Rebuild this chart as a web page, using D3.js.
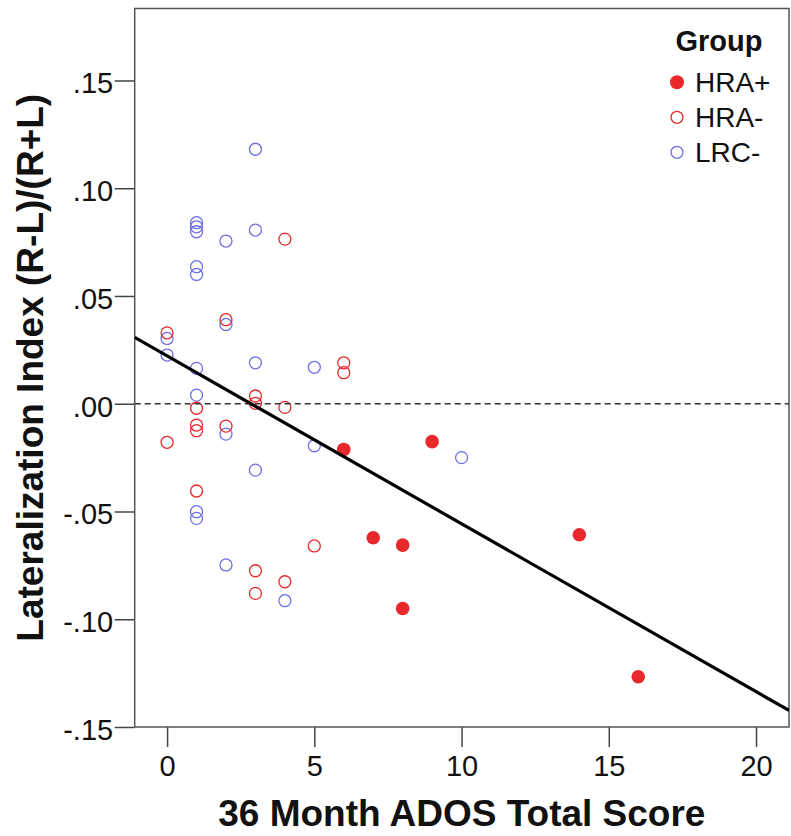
<!DOCTYPE html>
<html>
<head>
<meta charset="utf-8">
<script src="https://cdn.jsdelivr.net/npm/d3@7"></script>
<style>
  body { margin: 0; background: #fff; }
  svg { display: block; font-family: "Liberation Sans", Arial, sans-serif; }
</style>
</head>
<body>
<div id="chart"></div>
<script>
// data
var hraPlusX = [6, 7, 8, 8, 9, 14, 16];
var hraPlusY = [-0.0212, -0.0622, -0.0656, -0.0950, -0.0176, -0.0608, -0.1267];

var hraMinusX = [4, 2, 0, 6, 6, 3, 3, 4, 1, 1, 1, 2, 0, 1, 5, 3, 4, 3];
var hraMinusY = [0.0764, 0.0390, 0.0329, 0.0190, 0.0144, 0.0036, 0.0002, -0.0017, -0.0021,
                 -0.0099, -0.0125, -0.0104, -0.0179, -0.0405, -0.0660, -0.0775, -0.0826, -0.0880];

var lrcX = [3, 1, 1, 1, 2, 3, 1, 1, 2, 0, 0, 1, 3, 5, 1, 2, 5, 3, 1, 1, 2, 4, 10];
var lrcY = [0.1181, 0.0840, 0.0821, 0.0798, 0.0755, 0.0806, 0.0636, 0.0600, 0.0368, 0.0303,
            0.0226, 0.0164, 0.0190, 0.0169, 0.0040, -0.0141, -0.0195, -0.0308, -0.0501,
            -0.0532, -0.0748, -0.0914, -0.0250];

// fit line: intercept, slope
var fitIntercept = 0.0222;
var fitSlope = -0.00779;

var xTicks = [0, 5, 10, 15, 20];
var yTicks = [0.15, 0.10, 0.05, 0.00, -0.05, -0.10, -0.15];
var yTickLabels = [".15", ".10", ".05", ".00", "-.05", "-.10", "-.15"];

var groups = ["HRA+", "HRA-", "LRC-"];

var red = "#e8282b";
var blue = "#6f6fe6";
var fontFamily = "'Liberation Sans', Arial, sans-serif";

var width = 791, height = 836;
var margin = {top: 8.5, right: 2, bottom: 109, left: 134.7};
var w = width - margin.left - margin.right;
var h = height - margin.top - margin.bottom;

var svg = d3.select("#chart")
    .append("svg")
    .attr("width", width)
    .attr("height", height);

var g = svg.append("g")
    .attr("transform", "translate(" + margin.left + "," + margin.top + ")");

var x = d3.scaleLinear().domain([-1.1, 21.12]).range([0, w]);
var y = d3.scaleLinear().domain([-0.15, 0.1834]).range([h, 0]);

// axes
var xAxis = g.append("g")
    .attr("transform", "translate(0," + h + ")")
    .call(d3.axisBottom(x).tickValues(xTicks).tickSize(20).tickSizeOuter(0).tickPadding(8));

var yAxis = g.append("g")
    .call(d3.axisLeft(y).tickValues(yTicks).tickSize(20).tickSizeOuter(0).tickPadding(1.5)
        .tickFormat(function(d, i) { return yTickLabels[i]; }));

[xAxis, yAxis].forEach(function(a) {
    a.attr("font-family", fontFamily);
    a.select(".domain").remove();
    a.selectAll("line").attr("stroke", "#444").attr("stroke-width", 1.5);
    a.selectAll("text")
        .attr("fill", "#111")
        .style("font-size", "29px");
});
yAxis.selectAll("text").attr("dy", "0.43em");

// frame
g.append("rect")
    .attr("width", w)
    .attr("height", h)
    .attr("fill", "none")
    .attr("stroke", "#555")
    .attr("stroke-width", 1.5);

g.append("clipPath")
    .attr("id", "clip")
    .append("rect")
    .attr("width", w)
    .attr("height", h);

var plot = g.append("g").attr("clip-path", "url(#clip)");

// points
plot.selectAll(".lrc")
    .data(d3.range(lrcX.length))
    .enter()
    .append("circle")
    .attr("class", "lrc")
    .attr("cx", function(i) { return x(lrcX[i]); })
    .attr("cy", function(i) { return y(lrcY[i]); })
    .attr("r", 6)
    .attr("fill", "none")
    .attr("stroke", blue)
    .attr("stroke-width", 1.3);

plot.selectAll(".hraminus")
    .data(d3.range(hraMinusX.length))
    .enter()
    .append("circle")
    .attr("class", "hraminus")
    .attr("cx", function(i) { return x(hraMinusX[i]); })
    .attr("cy", function(i) { return y(hraMinusY[i]); })
    .attr("r", 6)
    .attr("fill", "none")
    .attr("stroke", red)
    .attr("stroke-width", 1.3);

plot.selectAll(".hraplus")
    .data(d3.range(hraPlusX.length))
    .enter()
    .append("circle")
    .attr("class", "hraplus")
    .attr("cx", function(i) { return x(hraPlusX[i]); })
    .attr("cy", function(i) { return y(hraPlusY[i]); })
    .attr("r", 6.8)
    .attr("fill", red);

// zero reference line
plot.append("line")
    .attr("x1", 0)
    .attr("x2", w)
    .attr("y1", y(0))
    .attr("y2", y(0))
    .attr("stroke", "#333")
    .attr("stroke-width", 1.5)
    .attr("stroke-dasharray", "6,4");

// fit line
var xd = x.domain();
plot.append("line")
    .attr("x1", x(xd[0]))
    .attr("y1", y(fitIntercept + fitSlope * xd[0]))
    .attr("x2", x(xd[1]))
    .attr("y2", y(fitIntercept + fitSlope * xd[1]))
    .attr("stroke", "#000")
    .attr("stroke-width", 3.2);

// axis titles
svg.append("text")
    .attr("x", margin.left + w / 2)
    .attr("y", 826)
    .attr("text-anchor", "middle")
    .style("font-size", "37px")
    .style("font-weight", "bold")
    .attr("fill", "#111")
    .text("36 Month ADOS Total Score");

svg.append("text")
    .attr("transform", "translate(43," + (margin.top + h / 2) + ") rotate(-90)")
    .attr("text-anchor", "middle")
    .style("font-size", "37px")
    .style("font-weight", "bold")
    .attr("fill", "#111")
    .text("Lateralization Index (R-L)/(R+L)");

// legend
var legend = svg.append("g");

legend.append("text")
    .attr("x", 719)
    .attr("y", 51)
    .attr("text-anchor", "middle")
    .style("font-size", "29px")
    .style("font-weight", "bold")
    .attr("fill", "#111")
    .text("Group");

groups.forEach(function(name, i) {
    var cy = 82.3 + i * 35;
    var c = legend.append("circle")
        .attr("cx", 677)
        .attr("cy", cy);
    if (i == 0) {
        c.attr("r", 7).attr("fill", red);
    } else {
        c.attr("r", 6)
            .attr("fill", "none")
            .attr("stroke", i == 1 ? red : blue)
            .attr("stroke-width", 1.3);
    }
    legend.append("text")
        .attr("x", 695)
        .attr("y", cy + 9.8)
        .style("font-size", "28px")
        .attr("fill", "#111")
        .text(name);
});
</script>
</body>
</html>
